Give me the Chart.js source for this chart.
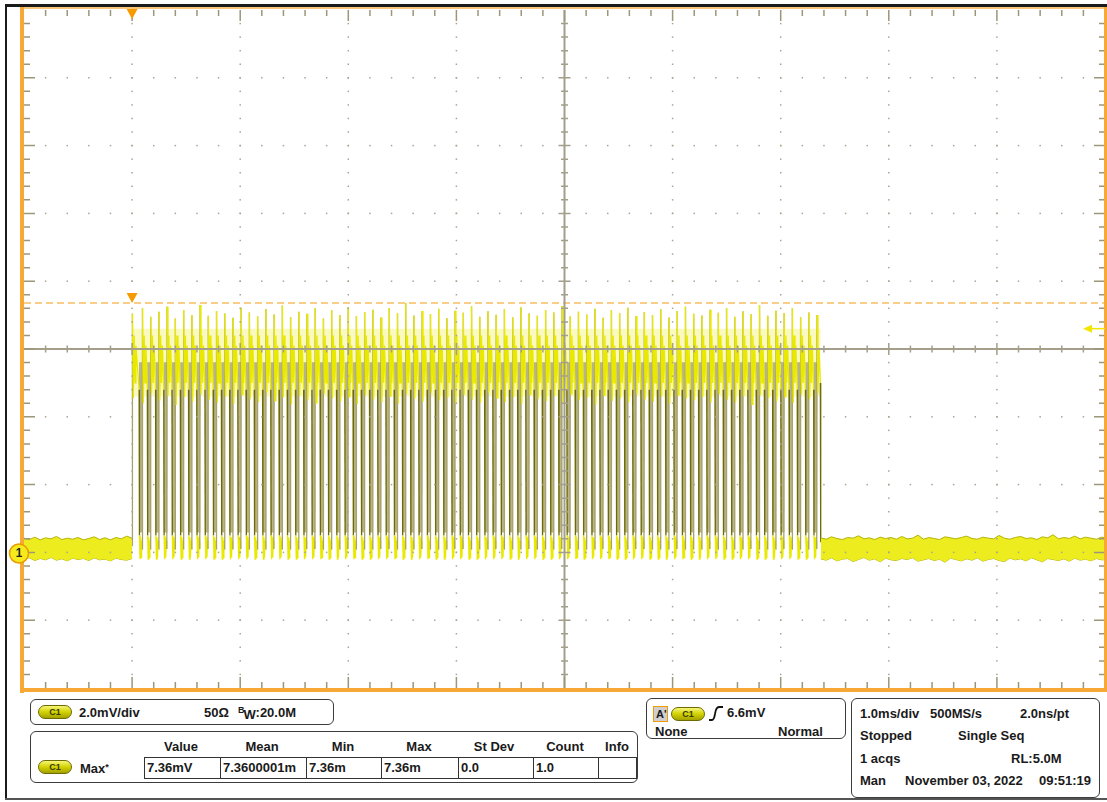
<!DOCTYPE html>
<html>
<head>
<meta charset="utf-8">
<script src="https://cdn.jsdelivr.net/npm/chart.js@4/dist/chart.umd.min.js"></script>
<style>
  body { margin: 0; background: #fff; width: 1107px; height: 802px; overflow: hidden; position: relative;
         font-family: "Liberation Sans", Arial, sans-serif; font-weight: bold; font-size: 13px; color: #1a1a1a; }
  #scope { position: absolute; left: 0; top: 0; }
  .frame { position: absolute; background: #1b1b1b; }
  .box { position: absolute; border: 1px solid #3c3c3c; border-radius: 6px; box-sizing: border-box; }
  .t { position: absolute; line-height: 15px; white-space: nowrap; }
  .c { transform: translateX(-50%); }
  .pill { position: absolute; width: 34px; height: 14px; border-radius: 7px; box-sizing: border-box;
          background: linear-gradient(#f6f67a, #d2d200 50%, #a3a100); border: 1px solid #6d6b00;
          font-size: 9px; line-height: 12px; text-align: center; color: #3a3a00; }
  .cell { position: absolute; top: 757px; height: 22px; border: 1px solid #333; box-sizing: border-box;
          padding-left: 2px; line-height: 20px; }
</style>
</head>
<body>
<canvas id="scope" width="1107" height="696"></canvas>

<div class="frame" style="left:5px;top:4px;width:1102px;height:3px"></div>
<div class="frame" style="left:5px;top:4px;width:2px;height:796px"></div>
<div class="frame" style="left:5px;top:798px;width:1102px;height:2px;background:#555"></div>

<!-- vertical settings -->
<div class="box" style="left:30px;top:699px;width:304px;height:26px"></div>
<div class="pill" style="left:38px;top:705px">C1</div>
<div class="t" style="left:79px;top:705px">2.0mV/div</div>
<div class="t" style="left:204px;top:705px">50Ω</div>
<div class="t" style="left:238px;top:705px"><span style="font-size:9px;position:relative;top:-4px">B</span><span style="position:relative;top:2px;margin-left:-1px">W</span>:20.0M</div>

<!-- measurements -->
<div class="box" style="left:30px;top:731px;width:608px;height:52px"></div>
<div class="t c" style="left:181px;top:739px">Value</div>
<div class="t c" style="left:262px;top:739px">Mean</div>
<div class="t c" style="left:343px;top:739px">Min</div>
<div class="t c" style="left:419px;top:739px">Max</div>
<div class="t c" style="left:494px;top:739px">St Dev</div>
<div class="t c" style="left:565px;top:739px">Count</div>
<div class="t c" style="left:617px;top:739px">Info</div>
<div class="pill" style="left:38px;top:760px">C1</div>
<div class="t" style="left:80px;top:761px">Max<span style="font-size:9px;position:relative;top:-3px">*</span></div>
<div class="cell" style="left:144px;width:77px">7.36mV</div>
<div class="cell" style="left:220px;width:87px">7.3600001m</div>
<div class="cell" style="left:306px;width:76px">7.36m</div>
<div class="cell" style="left:381px;width:78px">7.36m</div>
<div class="cell" style="left:458px;width:76px">0.0</div>
<div class="cell" style="left:533px;width:66px">1.0</div>
<div class="cell" style="left:598px;width:39px"></div>

<!-- trigger -->
<div class="box" style="left:646px;top:698px;width:200px;height:41px"></div>
<div style="position:absolute;left:653px;top:706px;width:15px;height:16px;box-sizing:border-box;border:1px solid #f39a00;background:#cfcfcf;font-size:11px;line-height:14px;padding-left:2px">A'</div>
<div class="pill" style="left:671px;top:707px">C1</div>
<svg style="position:absolute;left:708px;top:705px" width="16" height="17">
  <path d="M1 15 L4 15 Q6 15 7 9 Q8 2 11 2 L15 2" fill="none" stroke="#111" stroke-width="1.8"/>
</svg>
<div class="t" style="left:727px;top:705px">6.6mV</div>
<div class="t" style="left:655px;top:724px">None</div>
<div class="t" style="left:778px;top:724px">Normal</div>

<!-- horizontal / acquisition -->
<div class="box" style="left:851px;top:698px;width:249px;height:100px"></div>
<div class="t" style="left:860px;top:706px">1.0ms/div</div>
<div class="t" style="left:930px;top:706px">500MS/s</div>
<div class="t" style="left:1020px;top:706px">2.0ns/pt</div>
<div class="t" style="left:860px;top:728px">Stopped</div>
<div class="t" style="left:958px;top:728px">Single Seq</div>
<div class="t" style="left:860px;top:751px">1 acqs</div>
<div class="t" style="left:1011px;top:751px">RL:5.0M</div>
<div class="t" style="left:860px;top:773px">Man</div>
<div class="t" style="left:905px;top:773px">November 03, 2022</div>
<div class="t" style="left:1039px;top:773px">09:51:19</div>

<script>
// screen: 10 x 10 divisions, 1.0 ms/div, 2.0 mV/div, ground 3 div below centre
const timeMin = -1, timeMax = 9;
const mvMin = -4, mvMax = 16;
const triggerLevel = 6.6;
const maxLevel = 7.36;
const burstEnd = 6.37;

// falling edge of every low pulse in the burst (ms)
const dipTimes = [
  0.065, 0.141, 0.217, 0.293, 0.369, 0.446, 0.522, 0.598, 0.674, 0.750,
  0.826, 0.902, 0.978, 1.054, 1.130, 1.207, 1.283, 1.359, 1.435, 1.511,
  1.587, 1.663, 1.739, 1.815, 1.891, 1.968, 2.044, 2.120, 2.196, 2.272,
  2.348, 2.424, 2.500, 2.576, 2.652, 2.729, 2.805, 2.881, 2.957, 3.033,
  3.109, 3.185, 3.261, 3.337, 3.413, 3.490, 3.566, 3.642, 3.718, 3.794,
  3.870, 3.946, 4.022, 4.098, 4.174, 4.251, 4.327, 4.403, 4.479, 4.555,
  4.631, 4.707, 4.783, 4.859, 4.935, 5.012, 5.088, 5.164, 5.240, 5.316,
  5.392, 5.468, 5.544, 5.620, 5.696, 5.773, 5.849, 5.925, 6.001, 6.077,
  6.153, 6.229, 6.305
];
// overshoot after each rising edge (mV)
const pulsePeak = [
  7.05, 7.20, 6.95, 7.10, 7.25, 6.90, 7.15, 7.00, 7.30, 6.98,
  7.12, 7.05, 6.92, 7.22, 7.08, 6.96, 7.18, 7.02, 7.28, 6.94,
  7.10, 7.04, 7.20, 6.90, 7.14, 7.00, 7.24, 6.97, 7.09, 7.16,
  6.93, 7.21, 7.06, 7.36, 6.99, 7.12, 7.03, 7.19, 6.91, 7.13,
  7.07, 7.26, 6.95, 7.11, 7.01, 7.17, 6.94, 7.23, 7.05, 6.98,
  7.15, 7.08, 7.27, 6.96, 7.10, 7.02, 7.19, 6.92, 7.14, 7.06,
  7.22, 6.97, 7.09, 7.00, 7.18, 6.93, 7.12, 7.25, 7.04, 6.99,
  7.16, 7.07, 7.21, 6.95, 7.11, 7.03, 7.30, 6.98, 7.13, 7.06,
  7.20, 6.94, 7.08
];
// first undershoot of the ringing (mV)
const pulseTrough = [
  4.55, 4.40, 4.70, 4.48, 4.62, 4.35, 4.58, 4.45, 4.68, 4.50,
  4.42, 4.60, 4.38, 4.66, 4.52, 4.44, 4.72, 4.47, 4.57, 4.36,
  4.63, 4.49, 4.41, 4.69, 4.54, 4.46, 4.59, 4.37, 4.65, 4.51,
  4.43, 4.61, 4.39, 4.67, 4.53, 4.45, 4.71, 4.48, 4.56, 4.40,
  4.64, 4.50, 4.42, 4.70, 4.55, 4.44, 4.58, 4.38, 4.66, 4.52,
  4.46, 4.62, 4.41, 4.68, 4.49, 4.57, 4.36, 4.63, 4.47, 4.54,
  4.43, 4.69, 4.51, 4.45, 4.60, 4.39, 4.65, 4.53, 4.48, 4.58,
  4.42, 4.67, 4.50, 4.44, 4.61, 4.37, 4.64, 4.55, 4.46, 4.59,
  4.41, 4.68, 4.52
];
// rest of the ringing on the high level, and the low level inside a dip
const ringOffsets = [0.019, 0.027, 0.035];
const ringLevels = [6.4, 5.0, 6.1];
const highEnd = 4.8;
const dipOffsets = [0.003, 0.008, 0.013, 0.018, 0.023, 0.028];
const dipLevels = [0.5, -0.2, 0.45, -0.15, 0.35, 0.1];
const dipFill = [0.6, 5.6];
const highBand = [4.6, 6.6];

// baseline noise envelope, one value every 0.05 ms
const noiseStep = 0.05;
const noiseLeftStart = -1.0;
const noiseLeftUpper = [0.42, 0.38, 0.45, 0.37, 0.43, 0.40, 0.47, 0.38, 0.42, 0.39, 0.44,
                        0.37, 0.41, 0.46, 0.38, 0.43, 0.37, 0.44, 0.40, 0.48, 0.42];
const noiseLeftLower = [-0.20, -0.16, -0.24, -0.18, -0.22, -0.15, -0.23, -0.19, -0.25, -0.17, -0.21,
                        -0.18, -0.24, -0.16, -0.22, -0.20, -0.25, -0.17, -0.21, -0.23, -0.18];
const noiseRightStart = 6.37;
const noiseRightUpper = [
  0.43, 0.39, 0.46, 0.41, 0.38, 0.44, 0.42, 0.49, 0.40, 0.43,
  0.38, 0.45, 0.41, 0.44, 0.39, 0.47, 0.40, 0.42, 0.51, 0.39,
  0.44, 0.41, 0.38, 0.46, 0.43, 0.40, 0.44, 0.48, 0.41, 0.39,
  0.45, 0.42, 0.40, 0.50, 0.42, 0.39, 0.44, 0.47, 0.41, 0.43,
  0.38, 0.46, 0.43, 0.52, 0.40, 0.44, 0.41, 0.48, 0.40, 0.45,
  0.42, 0.39, 0.45, 0.42
];
const noiseRightLower = [
  -0.19, -0.23, -0.16, -0.25, -0.20, -0.18, -0.27, -0.21, -0.15, -0.23,
  -0.19, -0.28, -0.17, -0.22, -0.24, -0.18, -0.21, -0.16, -0.26, -0.22,
  -0.18, -0.24, -0.20, -0.29, -0.17, -0.21, -0.25, -0.19, -0.23, -0.16,
  -0.26, -0.21, -0.18, -0.24, -0.27, -0.17, -0.22, -0.19, -0.25, -0.16,
  -0.22, -0.28, -0.18, -0.21, -0.24, -0.19, -0.26, -0.17, -0.23, -0.20,
  -0.25, -0.18, -0.22, -0.21
];

const YELLOW = "#e9e900";
const EDGE = "#6e6b04";
const RISE = "#a8a36c";
const ORANGE = "#f8a935";

// build the burst trace
const trace = [{ x: 0, y: 0.2 }];
let rise = 0;
dipTimes.forEach((t, i) => {
  trace.push({ x: rise + 0.003, y: pulsePeak[i] });
  trace.push({ x: rise + 0.011, y: pulseTrough[i] });
  ringOffsets.forEach((o, k) => trace.push({ x: rise + o, y: ringLevels[k] }));
  trace.push({ x: t, y: highEnd });
  dipOffsets.forEach((o, k) => trace.push({ x: t + o, y: dipLevels[k] }));
  rise = t + dipOffsets[dipOffsets.length - 1];
});
trace.push({ x: rise + 0.003, y: 7.0 });
trace.push({ x: rise + 0.012, y: 4.7 });
trace.push({ x: rise + 0.022, y: 6.0 });
trace.push({ x: burstEnd - 0.003, y: 5.0 });
trace.push({ x: burstEnd, y: 0.3 });

const dipBars = dipTimes.map(t => ({ x: t + 0.016, y: dipFill }));

function envelope(start, vals) {
  return vals.map((v, i) => ({ x: start + i * noiseStep, y: v }));
}

function bandSet(data, fill, order) {
  return {
    type: "line", data, order, fill,
    borderColor: "#b4b20a", borderWidth: 1, backgroundColor: "#ecec1e",
    pointRadius: 0, tension: 0
  };
}

// graticule, border and markers
const scopeOverlay = {
  id: "scopeOverlay",
  afterDatasetsDraw(chart) {
    const c = chart.ctx;
    const xs = chart.scales.x, ys = chart.scales.y;
    const a = chart.chartArea;
    const xDiv = (a.right - a.left) / 10, yDiv = (a.bottom - a.top) / 10;
    const cx = (a.left + a.right) / 2, cy = (a.top + a.bottom) / 2;
    c.save();

    // dotted division lines
    c.fillStyle = "#aaa58f";
    for (let i = 1; i < 10; i++) {
      if (i === 5) continue;
      const gx = a.left + i * xDiv, gy = a.top + i * yDiv;
      for (let j = 1; j < 50; j++) {
        c.fillRect(gx - 0.75, a.top + j * yDiv / 5 - 0.75, 1.5, 1.5);
        c.fillRect(a.left + j * xDiv / 5 - 0.75, gy - 0.75, 1.5, 1.5);
      }
    }

    // centre cross with minor ticks
    c.strokeStyle = "#a49f8b";
    c.lineWidth = 2;
    c.beginPath();
    c.moveTo(a.left, cy); c.lineTo(a.right, cy);
    c.moveTo(cx, a.top); c.lineTo(cx, a.bottom);
    c.stroke();
    c.lineWidth = 1.5;
    c.beginPath();
    for (let j = 1; j < 50; j++) {
      const len = j % 5 === 0 ? 6 : 3.5;
      const tx = a.left + j * xDiv / 5, ty = a.top + j * yDiv / 5;
      c.moveTo(tx, cy - len); c.lineTo(tx, cy + len);
      c.moveTo(cx - len, ty); c.lineTo(cx + len, ty);
    }
    c.stroke();

    // edge ticks
    c.strokeStyle = "#9c967b";
    c.beginPath();
    for (let j = 1; j < 50; j++) {
      const len = j % 5 === 0 ? 11 : 6;
      const tx = a.left + j * xDiv / 5, ty = a.top + j * yDiv / 5;
      c.moveTo(tx, a.top); c.lineTo(tx, a.top + len);
      c.moveTo(tx, a.bottom); c.lineTo(tx, a.bottom - len);
      c.moveTo(a.left, ty); c.lineTo(a.left + len, ty);
      c.moveTo(a.right, ty); c.lineTo(a.right - len, ty);
    }
    c.stroke();

    // orange screen border
    c.fillStyle = "#f9c67a";
    c.fillRect(a.left - 3, a.top - 3, a.right - a.left + 5, 2);
    c.fillStyle = ORANGE;
    c.fillRect(a.left - 4, a.top - 3, 4, a.bottom - a.top + 8);
    c.fillRect(a.left - 4, a.bottom, a.right - a.left + 6, 4);
    c.fillRect(a.right - 1, a.top - 3, 3, a.bottom - a.top + 7);

    // trigger position markers
    const tx = xs.getPixelForValue(0);
    const my = ys.getPixelForValue(maxLevel);
    c.fillStyle = "#f79a00";
    c.beginPath();
    c.moveTo(tx - 5.5, a.top - 1); c.lineTo(tx + 5.5, a.top - 1); c.lineTo(tx, a.top + 9); c.closePath();
    c.moveTo(tx - 5.5, my - 10); c.lineTo(tx + 5.5, my - 10); c.lineTo(tx, my); c.closePath();
    c.fill();

    // trigger level arrow
    const ly = ys.getPixelForValue(triggerLevel);
    c.strokeStyle = "#f2e600";
    c.fillStyle = "#f2e600";
    c.lineWidth = 1.5;
    c.beginPath(); c.moveTo(a.right - 14, ly); c.lineTo(a.right, ly); c.stroke();
    c.beginPath(); c.moveTo(a.right - 22, ly); c.lineTo(a.right - 13, ly - 4); c.lineTo(a.right - 13, ly + 4); c.closePath(); c.fill();

    // channel 1 ground marker
    const gy = ys.getPixelForValue(0);
    c.beginPath(); c.arc(19, gy + 1, 9.5, 0, Math.PI * 2);
    c.fillStyle = "#f7ea1c"; c.fill();
    c.lineWidth = 1.5; c.strokeStyle = "#e89a00"; c.stroke();
    c.fillStyle = "#222";
    c.font = "bold 12px 'Liberation Sans', Arial";
    c.textAlign = "center"; c.textBaseline = "middle";
    c.fillText("1", 19, gy + 1.5);
    c.restore();
  }
};

new Chart(document.getElementById("scope"), {
  type: "line",
  data: {
    datasets: [
      {
        data: [{ x: timeMin, y: maxLevel }, { x: timeMax, y: maxLevel }],
        borderColor: "#f9bf62", borderWidth: 1.5, borderDash: [7, 4],
        pointRadius: 0, order: 0
      },
      bandSet(envelope(noiseLeftStart, noiseLeftUpper), "+1", 1),
      bandSet(envelope(noiseLeftStart, noiseLeftLower), false, 1),
      bandSet(envelope(noiseRightStart, noiseRightUpper), "+1", 1),
      bandSet(envelope(noiseRightStart, noiseRightLower), false, 1),
      {
        data: trace, order: 2,
        borderColor: YELLOW, borderWidth: 1.3, pointRadius: 0, tension: 0,
        segment: {
          borderColor: s => {
            const dy = s.p1.parsed.y - s.p0.parsed.y;
            if (dy < -3) return EDGE;
            if (dy > 3) return RISE;
            return YELLOW;
          }
        }
      },
      {
        type: "bar", data: dipBars, order: 4,
        backgroundColor: "#b7b38a", barThickness: 3, borderWidth: 0
      },
      {
        data: [{ x: 0, y: highBand[1] }, { x: burstEnd, y: highBand[1] }],
        fill: { value: highBand[0] }, order: 5,
        borderWidth: 0, pointRadius: 0, backgroundColor: "rgba(244,244,140,0.55)"
      }
    ]
  },
  options: {
    responsive: false,
    animation: false,
    events: [],
    layout: { padding: { left: 24, right: 2, top: 10, bottom: 8 } },
    plugins: { legend: { display: false }, tooltip: { enabled: false } },
    scales: {
      x: { type: "linear", min: timeMin, max: timeMax, display: false, offset: false },
      y: { type: "linear", min: mvMin, max: mvMax, display: false }
    }
  },
  plugins: [scopeOverlay]
});
</script>
</body>
</html>
